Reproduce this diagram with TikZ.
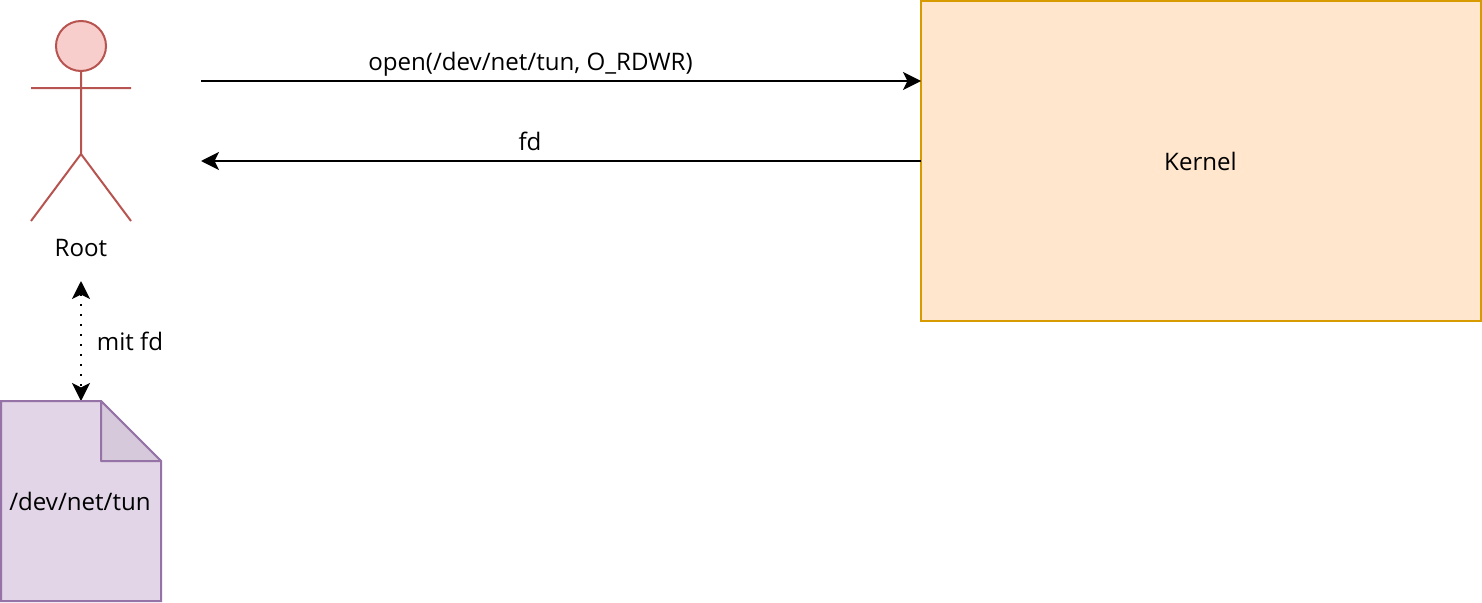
\documentclass[tikz,border=0pt]{standalone}
\usepackage{fontspec}
\setmainfont{Open Sans}
\usetikzlibrary{arrows.meta}
\definecolor{redf}{HTML}{F8CECC}\definecolor{redd}{HTML}{B85450}
\definecolor{orf}{HTML}{FFE6CC}\definecolor{ord}{HTML}{D79B00}
\definecolor{puf}{HTML}{E1D5E7}\definecolor{pud}{HTML}{9673A6}
\definecolor{pufold}{HTML}{D5C9DB}
\tikzset{x=1pt,y=-1pt,
 tiphead/.tip={Stealth[length=18pt,width=18pt,inset=4.5pt]},
 lbl/.style={font=\fontsize{24.1}{28}\selectfont,inner sep=0pt,text=black},
 conn/.style={draw=black,line width=2pt,-{tiphead}},
 dotconn/.style={draw=black,line width=2pt,{tiphead}-{tiphead},dash pattern=on 2pt off 8pt},
 actor/.style={draw=redd,line width=2pt},
 filebody/.style={draw=pud,fill=puf,line width=2pt},
 filefold/.style={draw=pud,fill=pufold,line width=2pt,line join=round}}
\begin{document}
\begin{tikzpicture}
\useasboundingbox (0,0) rectangle (1482,602);
\node[draw=ord,fill=orf,line width=2pt,outer sep=0pt,minimum width=560pt,minimum height=320pt,inner sep=0pt,lbl,anchor=north west] (kernel) at (921,1) {\kern-1pt Kernel};
\coordinate (c1) at (201,81);
\coordinate (c2) at (921,81);
\coordinate (c3) at (201,161);
\coordinate (c4) at (921,161);
\coordinate (c5) at (81,281);
\coordinate (c6) at (81,401);
\draw[conn] (c1) -- (c2);
\draw[conn] (c4) -- (c3);
\draw[dotconn] (c5) -- (c6);
\node[lbl] (l1) at (530.5,64.5) {open(/dev/net/tun, O\_RDWR)};
\node[lbl] (l2) at (530,141.5) {fd};
\node[lbl] (l3) at (130,341.5) {mit fd};
\node[lbl] (l4) at (81,248.5) {Root};
\draw[actor,fill=redf] (81,46) circle (25pt);
\draw[actor] (81,71) -- (81,154) (31,88) -- (131,88) (31,221) -- (81,154) -- (131,221);
\draw[filebody] (1,401) -- (101,401) -- (161,461) -- (161,601) -- (1,601) -- cycle;
\draw[filefold] (101,401) -- (101,461) -- (161,461) -- cycle;
\node[lbl] (l5) at (80,501.5) {/dev/net/tun};
\end{tikzpicture}
\end{document}
